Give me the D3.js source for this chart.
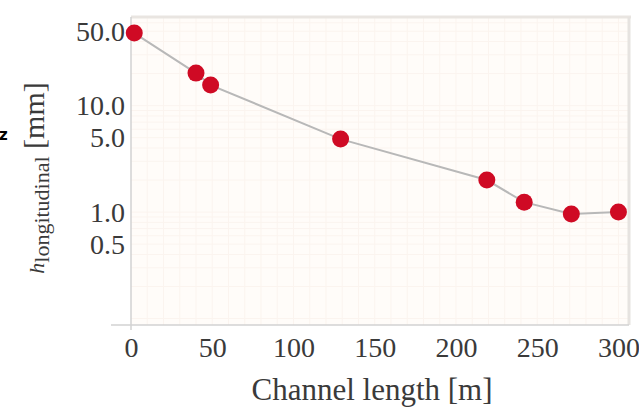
<!DOCTYPE html>
<html><head><meta charset="utf-8">
<script src="https://cdn.jsdelivr.net/npm/d3@7"></script>
<style>body{margin:0;background:#fff}svg{display:block}</style>
</head><body>
<svg id="c" width="639" height="411"></svg>
<script>
const channelLength = [2, 40, 49, 129, 219, 242, 271, 300];
const hLongitudinal = [48, 20.2, 15.6, 4.85, 2.0, 1.24, 0.96, 1.0];
const xTicks = [0, 50, 100, 150, 200, 250, 300];
const yTicks = [50, 10, 5, 1, 0.5];
const yTickLabels = ["50.0", "10.0", "5.0", "1.0", "0.5"];

const svg = d3.select("#c");
const L = 131, R = 629, T = 17, B = 325;
const x = d3.scaleLinear().domain([0, 306.5]).range([L, R]);
const y = d3.scaleLog().domain([0.087, 68]).range([B, T]);

svg.append("rect").attr("x", L).attr("y", T).attr("width", R - L).attr("height", B - T)
  .attr("fill", "#fffcf9");

// faint grid
const g = svg.append("g");
g.selectAll(".vg").data(d3.range(10, 306, 10)).join("line")
  .attr("x1", d => x(d)).attr("x2", d => x(d)).attr("y1", T).attr("y2", B)
  .attr("stroke", "#fbf4ef").attr("stroke-width", 1);
const minor = [];
[0.1, 1, 10].forEach(dec => { for (let k = 1; k <= 9; k++) { const v = dec * k; if (v > 0.087 && v < 68) minor.push(v); } });
g.selectAll(".hg").data(minor).join("line")
  .attr("x1", L).attr("x2", R).attr("y1", d => y(d)).attr("y2", d => y(d))
  .attr("stroke", "#fbf4ef").attr("stroke-width", 1);

// borders
svg.append("line").attr("x1", L).attr("x2", R + 2).attr("y1", T).attr("y2", T).attr("stroke", "#e9e5e1").attr("stroke-width", 3);
svg.append("line").attr("x1", R).attr("x2", R).attr("y1", T).attr("y2", B).attr("stroke", "#e6e3e0").attr("stroke-width", 3);

// axes
const xAxis = d3.axisBottom(x).tickValues(xTicks).tickSize(0).tickPadding(12).tickFormat(d3.format("d"));
const xa = svg.append("g").attr("transform", `translate(0,${B})`).call(xAxis);
xa.select(".domain").attr("stroke", "#d2d2d2").attr("stroke-width", 1.5).attr("d", `M${L - 20},0H${R}`);
xa.selectAll("text").attr("font-family", "Liberation Serif, serif").attr("font-size", 28).attr("fill", "#3a3a3a");

const yAxis = d3.axisLeft(y).tickValues(yTicks).tickSize(0).tickPadding(6)
  .tickFormat((d, i) => yTickLabels[i]);
const ya = svg.append("g").attr("transform", `translate(${L},0)`).call(yAxis);
ya.select(".domain").attr("stroke", "#d2d2d2").attr("stroke-width", 1.5).attr("d", `M0,${T}V${B + 5}`);
ya.selectAll("text").attr("font-family", "Liberation Serif, serif").attr("font-size", 28).attr("fill", "#3a3a3a");

// line + points
const pts = channelLength.map((c, i) => [c, hLongitudinal[i]]);
svg.append("path").datum(pts)
  .attr("d", d3.line().x(d => x(d[0])).y(d => y(d[1])))
  .attr("fill", "none").attr("stroke", "#b8b8b8").attr("stroke-width", 2);
svg.selectAll(".pt").data(pts).join("circle")
  .attr("cx", d => x(d[0])).attr("cy", d => y(d[1])).attr("r", 8.5)
  .attr("fill", "#cf0a24");

// labels
svg.append("text").attr("x", 372).attr("y", 400).attr("text-anchor", "middle")
  .attr("font-family", "Liberation Serif, serif").attr("font-size", 31).attr("fill", "#3a3a3a")
  .text("Channel length [m]");

const yl = svg.append("text").attr("transform", "translate(44,178) rotate(-90)")
  .attr("text-anchor", "middle")
  .attr("font-family", "Liberation Serif, serif").attr("font-size", 30).attr("fill", "#3a3a3a");
yl.append("tspan").attr("font-style", "italic").attr("font-size", 22).text("h");
yl.append("tspan").attr("font-size", 22).attr("dy", 5).text("longitudinal");
yl.append("tspan").attr("dy", -5).text(" [mm]");

svg.append("text").attr("x", -1).attr("y", 140).attr("font-family", "DejaVu Sans, sans-serif")
  .attr("font-weight", "bold").attr("font-size", 15).attr("fill", "#000").text("z");
</script>
</body></html>
